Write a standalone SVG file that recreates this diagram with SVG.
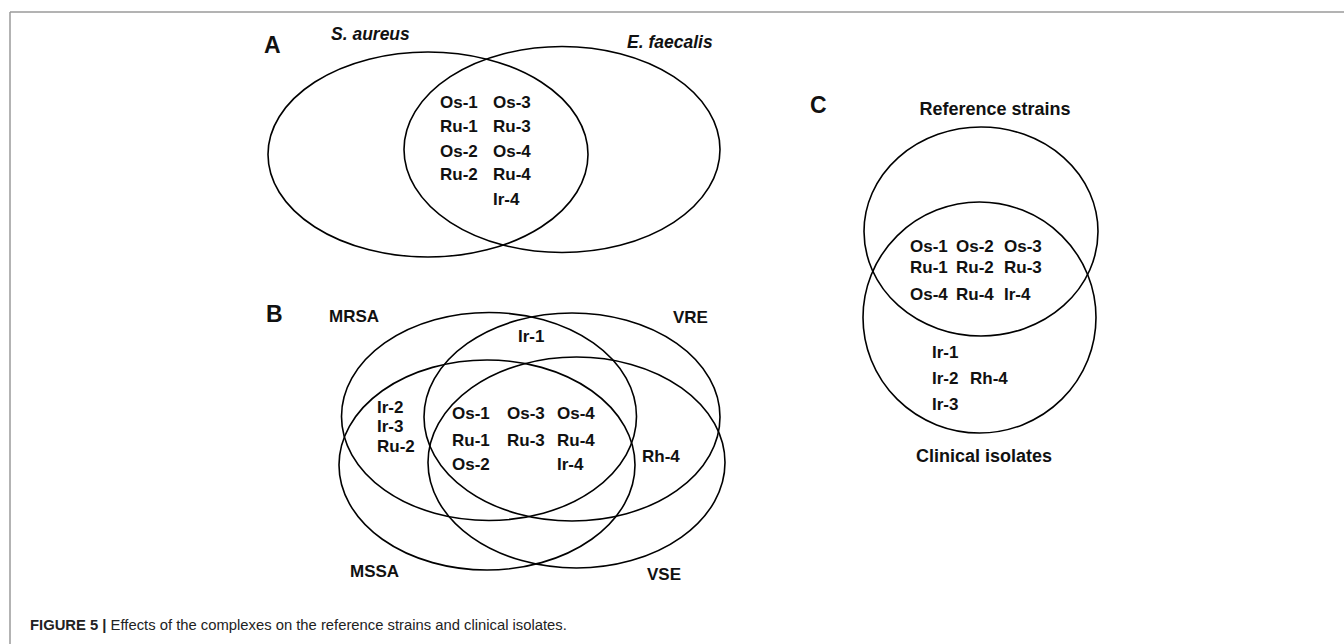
<svg xmlns="http://www.w3.org/2000/svg" width="1344" height="644" viewBox="0 0 1344 644">
<style>
.set{fill:none;stroke:#000;stroke-width:1.6}
.t{font-family:"Liberation Sans",Arial,sans-serif;font-weight:bold;font-size:17px;fill:#111}
.lab{font-family:"Liberation Sans",Arial,sans-serif;font-weight:bold;font-size:18px;fill:#111}
.it{font-style:italic;font-size:17.5px}
.pn{font-family:"Liberation Sans",Arial,sans-serif;font-weight:bold;font-size:23px;fill:#111}
.cap{font-family:"Liberation Sans",Arial,sans-serif;font-size:14.8px;fill:#222}
</style>
<rect width="1344" height="644" fill="#fff"/>
<g id="frame" stroke="#9a9a9a" stroke-width="1.5" fill="none">
<line x1="10" y1="12" x2="1344" y2="12"/>
<line x1="10" y1="12" x2="10" y2="644"/>
</g>
<g id="panelA">
<text class="pn" x="264" y="53">A</text>
<g id="A-saureus"><ellipse class="set" cx="428" cy="154.5" rx="160" ry="102.5"/><text class="lab it" x="331" y="40">S. aureus</text></g>
<g id="A-efaecalis"><ellipse class="set" cx="562" cy="149.5" rx="158" ry="103"/><text class="lab it" x="627" y="48">E. faecalis</text></g>
<g id="A-both" class="t">
<text x="440" y="108">Os-1</text><text x="493" y="108">Os-3</text>
<text x="440" y="132">Ru-1</text><text x="493" y="132">Ru-3</text>
<text x="440" y="157">Os-2</text><text x="493" y="157">Os-4</text>
<text x="440" y="180">Ru-2</text><text x="493" y="180">Ru-4</text>
<text x="493" y="205">Ir-4</text>
</g>
</g>
<g id="panelB">
<text class="pn" x="266" y="322">B</text>
<g id="B-MRSA"><ellipse class="set" cx="489" cy="416.5" rx="147.5" ry="104"/><text class="t" x="329" y="322">MRSA</text></g>
<g id="B-VRE"><ellipse class="set" cx="572" cy="417" rx="148" ry="104"/><text class="t" x="673" y="323">VRE</text></g>
<g id="B-MSSA"><ellipse class="set" cx="487" cy="465" rx="148" ry="105"/><text class="t" x="350" y="577">MSSA</text></g>
<g id="B-VSE"><ellipse class="set" cx="576.5" cy="462.5" rx="148.5" ry="105.5"/><text class="t" x="647" y="580">VSE</text></g>
<g id="B-regions" class="t">
<text x="518" y="342">Ir-1</text>
<text x="377" y="413">Ir-2</text><text x="377" y="432">Ir-3</text><text x="377" y="452">Ru-2</text>
<text x="452" y="419">Os-1</text><text x="507" y="419">Os-3</text><text x="557" y="419">Os-4</text>
<text x="452" y="446">Ru-1</text><text x="507" y="446">Ru-3</text><text x="557" y="446">Ru-4</text>
<text x="452" y="470">Os-2</text><text x="557" y="470">Ir-4</text>
<text x="642" y="462">Rh-4</text>
</g>
</g>
<g id="panelC">
<text class="pn" x="810" y="113">C</text>
<g id="C-reference"><ellipse class="set" cx="981" cy="231.5" rx="117" ry="104.5"/><text class="lab" x="995" y="115" text-anchor="middle">Reference strains</text></g>
<g id="C-clinical"><ellipse class="set" cx="979.5" cy="317.5" rx="116.5" ry="115.5"/><text class="lab" x="984" y="462" text-anchor="middle">Clinical isolates</text></g>
<g id="C-regions" class="t">
<text x="910" y="252">Os-1</text><text x="956" y="252">Os-2</text><text x="1004" y="252">Os-3</text>
<text x="910" y="273">Ru-1</text><text x="956" y="273">Ru-2</text><text x="1004" y="273">Ru-3</text>
<text x="910" y="300">Os-4</text><text x="956" y="300">Ru-4</text><text x="1004" y="300">Ir-4</text>
<text x="932" y="358">Ir-1</text>
<text x="932" y="384">Ir-2</text><text x="970" y="384">Rh-4</text>
<text x="932" y="410">Ir-3</text>
</g>
</g>
<g id="caption"><text class="cap" x="30" y="630"><tspan font-weight="bold">FIGURE 5 | </tspan>Effects of the complexes on the reference strains and clinical isolates.</text></g>
</svg>
